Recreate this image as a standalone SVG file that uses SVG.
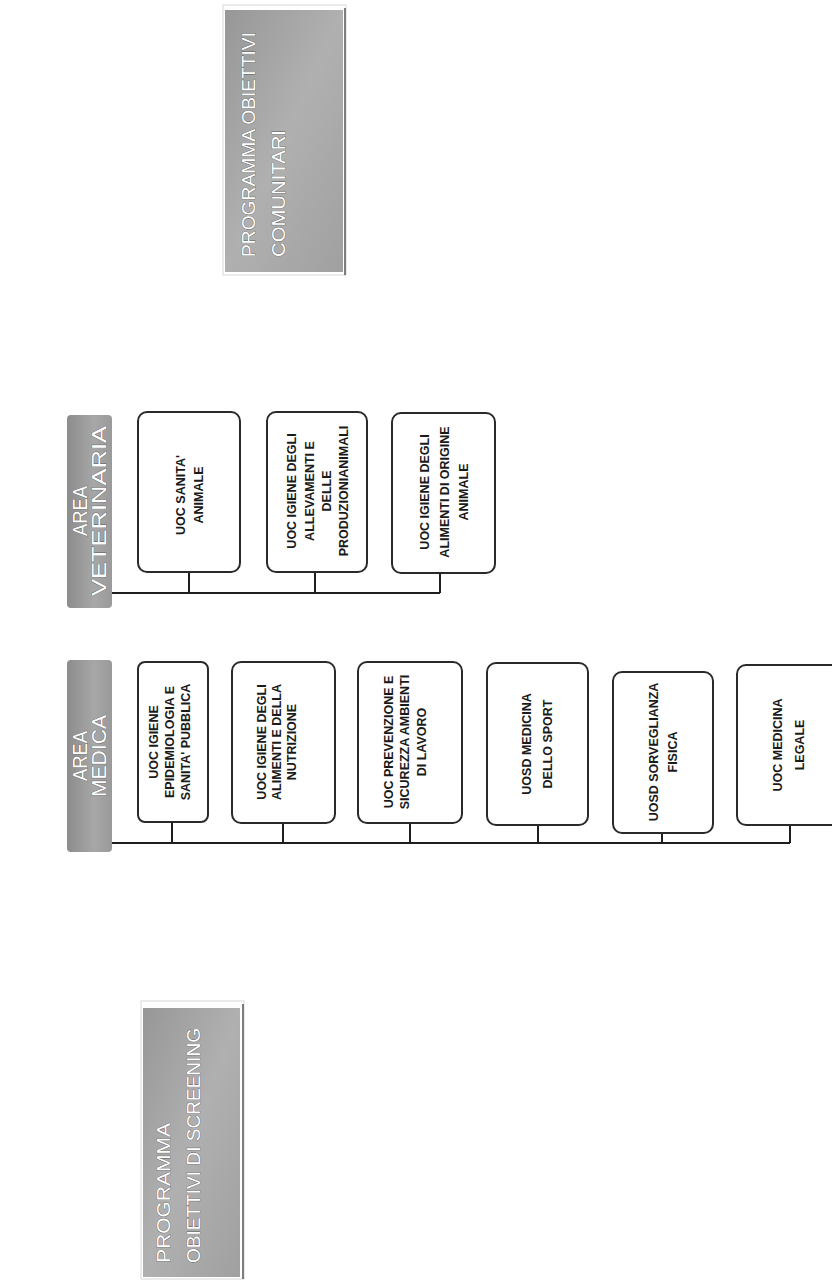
<svg xmlns="http://www.w3.org/2000/svg" width="832" height="1281" viewBox="0 0 832 1281">
<defs>
<linearGradient id="gray" x1="0" y1="0" x2="1" y2="1">
<stop offset="0" stop-color="#979797"/>
<stop offset="0.5" stop-color="#b0b0b0"/>
<stop offset="1" stop-color="#a0a0a0"/>
</linearGradient>
<linearGradient id="grayv" x1="0" y1="0" x2="1" y2="0">
<stop offset="0" stop-color="#8c8c8c"/>
<stop offset="0.6" stop-color="#a7a7a7"/>
<stop offset="1" stop-color="#9a9a9a"/>
</linearGradient>
<style>
.hdr{font-family:"Liberation Sans",Arial,sans-serif;fill:#ffffff;stroke:#5a5a5a;stroke-width:0.7;paint-order:stroke;}
.box{fill:#ffffff;stroke:#2a2a2a;stroke-width:2;}
.lbl{font-family:"Liberation Sans",Arial,sans-serif;font-weight:bold;font-size:12.5px;fill:#1a1a1a;text-anchor:middle;}
.ln{stroke:#1e1e1e;stroke-width:2;fill:none;}
</style>
</defs>
<rect width="832" height="1281" fill="#ffffff"/>

<g id="prog-comunitari">
<rect x="223" y="5" width="123" height="270" fill="none" stroke="#d8d8d8" stroke-width="1"/>
<line x1="345" y1="8" x2="345" y2="275" stroke="#555" stroke-width="1.5"/>
<rect x="225" y="10" width="118" height="262" fill="url(#gray)"/>
<text class="hdr" font-size="19" transform="translate(255,257) rotate(-90)" textLength="225" lengthAdjust="spacingAndGlyphs">PROGRAMMA OBIETTIVI</text>
<text class="hdr" font-size="19" transform="translate(285,257) rotate(-90)" textLength="127" lengthAdjust="spacingAndGlyphs">COMUNITARI</text>
</g>

<g id="prog-screening">
<rect x="141" y="1001" width="103" height="278" fill="none" stroke="#d8d8d8" stroke-width="1"/>
<line x1="243" y1="1004" x2="243" y2="1279" stroke="#555" stroke-width="1.5"/>
<rect x="143" y="1008" width="97" height="269" fill="url(#gray)"/>
<text class="hdr" font-size="19" transform="translate(170,1263) rotate(-90)" textLength="140" lengthAdjust="spacingAndGlyphs">PROGRAMMA</text>
<text class="hdr" font-size="19" transform="translate(200,1263) rotate(-90)" textLength="235" lengthAdjust="spacingAndGlyphs">OBIETTIVI DI SCREENING</text>
</g>

<g id="area-veterinaria">
<rect x="67" y="415" width="45" height="193" rx="4" fill="url(#grayv)"/>
<text class="hdr" font-size="21" text-anchor="middle" transform="translate(87,511) rotate(-90)" textLength="50" lengthAdjust="spacingAndGlyphs">AREA</text>
<text class="hdr" font-size="21" text-anchor="middle" transform="translate(106,511) rotate(-90)" textLength="170" lengthAdjust="spacingAndGlyphs">VETERINARIA</text>
</g>

<g id="area-medica">
<rect x="67" y="660" width="45" height="192" rx="4" fill="url(#grayv)"/>
<text class="hdr" font-size="21" text-anchor="middle" transform="translate(87,756) rotate(-90)" textLength="50" lengthAdjust="spacingAndGlyphs">AREA</text>
<text class="hdr" font-size="21" text-anchor="middle" transform="translate(106,756) rotate(-90)" textLength="82" lengthAdjust="spacingAndGlyphs">MEDICA</text>
</g>

<g id="connectors">
<path class="ln" d="M112,593 H440 M189,572 V593 M315,572 V593 M440,573 V593"/>
<path class="ln" d="M112,843 H790 M172,822 V843 M283,823 V843 M410,823 V843 M538,825 V843 M662,833 V843 M790,825 V843"/>
</g>

<g id="vet-1">
<rect class="box" x="138" y="412" width="102" height="160" rx="9"/>
<text class="lbl" transform="translate(185,495) rotate(-90)">UOC SANITA'</text>
<text class="lbl" transform="translate(203,495) rotate(-90)">ANIMALE</text>
</g>
<g id="vet-2">
<rect class="box" x="267" y="412" width="100" height="160" rx="9"/>
<text class="lbl" transform="translate(296,491) rotate(-90)">UOC IGIENE DEGLI</text>
<text class="lbl" transform="translate(314,491) rotate(-90)">ALLEVAMENTI E</text>
<text class="lbl" transform="translate(331,491) rotate(-90)">DELLE</text>
<text class="lbl" transform="translate(348,491) rotate(-90)">PRODUZIONIANIMALI</text>
</g>
<g id="vet-3">
<rect class="box" x="392" y="413" width="103" height="160" rx="9"/>
<text class="lbl" transform="translate(429,492) rotate(-90)">UOC IGIENE DEGLI</text>
<text class="lbl" transform="translate(449,492) rotate(-90)">ALIMENTI DI ORIGINE</text>
<text class="lbl" transform="translate(468,492) rotate(-90)">ANIMALE</text>
</g>

<g id="med-1">
<rect class="box" x="138" y="662" width="70" height="160" rx="7"/>
<text class="lbl" transform="translate(158,742) rotate(-90)">UOC IGIENE</text>
<text class="lbl" transform="translate(174,742) rotate(-90)">EPIDEMIOLOGIA E</text>
<text class="lbl" transform="translate(190,742) rotate(-90)">SANITA' PUBBLICA</text>
</g>
<g id="med-2">
<rect class="box" x="232" y="662" width="103" height="161" rx="9"/>
<text class="lbl" transform="translate(266,742) rotate(-90)">UOC IGIENE DEGLI</text>
<text class="lbl" transform="translate(281,742) rotate(-90)">ALIMENTI E DELLA</text>
<text class="lbl" transform="translate(296,742) rotate(-90)">NUTRIZIONE</text>
</g>
<g id="med-3">
<rect class="box" x="358" y="662" width="104" height="161" rx="9"/>
<text class="lbl" transform="translate(393,742) rotate(-90)">UOC PREVENZIONE E</text>
<text class="lbl" transform="translate(409,742) rotate(-90)">SICUREZZA AMBIENTI</text>
<text class="lbl" transform="translate(426,742) rotate(-90)">DI LAVORO</text>
</g>
<g id="med-4">
<rect class="box" x="487" y="663" width="101" height="162" rx="9"/>
<text class="lbl" transform="translate(531,744) rotate(-90)">UOSD MEDICINA</text>
<text class="lbl" transform="translate(552,744) rotate(-90)">DELLO SPORT</text>
</g>
<g id="med-5">
<rect class="box" x="613" y="672" width="100" height="161" rx="9"/>
<text class="lbl" transform="translate(658,752) rotate(-90)">UOSD SORVEGLIANZA</text>
<text class="lbl" transform="translate(677,752) rotate(-90)">FISICA</text>
</g>
<g id="med-6">
<rect class="box" x="737" y="665" width="110" height="160" rx="9"/>
<text class="lbl" transform="translate(782,745) rotate(-90)">UOC MEDICINA</text>
<text class="lbl" transform="translate(804,745) rotate(-90)">LEGALE</text>
</g>
</svg>
